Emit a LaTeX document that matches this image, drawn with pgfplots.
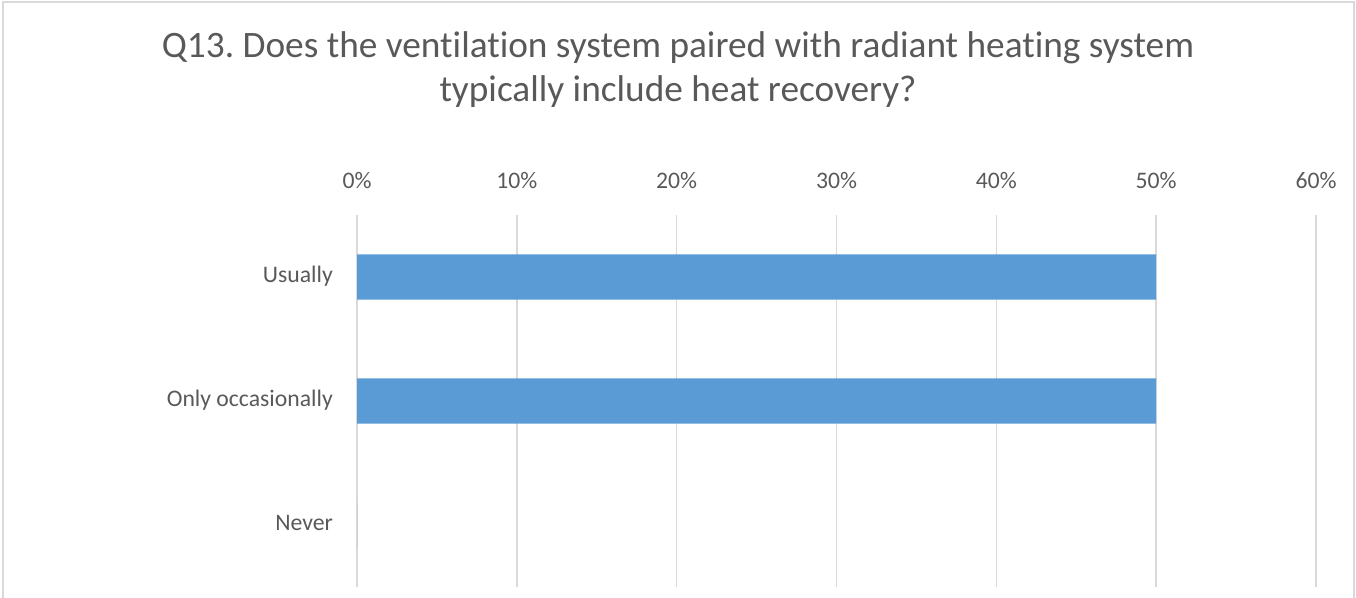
\documentclass[border=0pt]{standalone}
\usepackage{pgfplots}
\pgfplotsset{compat=1.18}
\usepackage{fontspec}
\setmainfont{Carlito}[Ligatures={NoCommon}]
\frenchspacing
\definecolor{txt}{HTML}{595959}
\definecolor{barc}{HTML}{5B9BD5}
\definecolor{gridc}{HTML}{D9D9D9}
\begin{document}
\begin{tikzpicture}[x=1pt,y=1pt]
\useasboundingbox (0,0) rectangle (1356,597);
\draw[gridc, line width=1.5pt] (3,-10) -- (3,595) -- (1354,595) -- (1354,-10);
\node[anchor=base, text=txt, font=\fontsize{37.3}{44}\selectfont, inner sep=0pt] at (678,539.3) {Q13. Does the ventilation system paired with radiant heating system};
\node[anchor=base, text=txt, font=\fontsize{37.3}{44}\selectfont, inner sep=0pt] at (678,495.3) {typically include heat recovery?};
\begin{axis}[
  at={(357pt,10pt)}, anchor=south west,
  scale only axis, width=959pt, height=372pt,
  xmin=0, xmax=60, ymin=-0.5, ymax=2.5,
  xbar, bar width=0.363,
  xtick={0,10,20,30,40,50,60},
  xticklabels={0\%,10\%,20\%,30\%,40\%,50\%,60\%},
  ytick={0,1,2},
  yticklabels={Never,Only occasionally,Usually},
  xmajorgrids, ymajorgrids=false,
  grid style={gridc, line width=1.5pt},
  axis line style={draw=none},
  major tick length=0pt,
  xticklabel pos=upper,
  tick label style={text=txt, font=\fontsize{23.7}{28}\selectfont, inner sep=0pt},
  xticklabel style={anchor=base, yshift=26pt},
  yticklabel style={anchor=base east, xshift=-24pt, yshift=-5.5pt},
]
\addplot[fill=barc, draw=none] coordinates {(50,2) (50,1) (0,0)};
\end{axis}
\end{tikzpicture}
\end{document}
